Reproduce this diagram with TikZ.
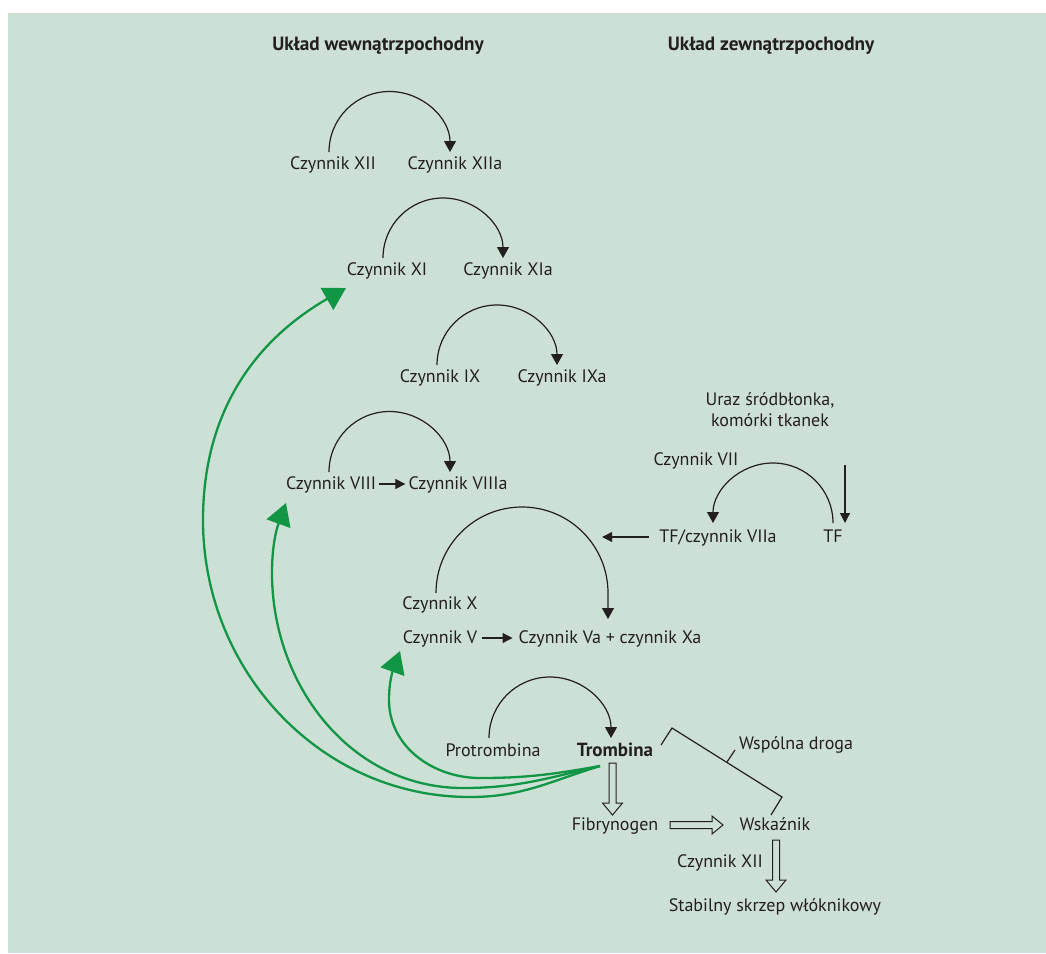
\documentclass[tikz,border=0pt]{standalone}
\usepackage{fontspec}
\setmainfont{PT Sans}
\usetikzlibrary{arrows.meta,calc}
\definecolor{bg}{RGB}{205,224,213}
\definecolor{gr}{RGB}{17,150,70}
\definecolor{tx}{RGB}{35,31,32}
\newcommand\hdown[3]{\draw[hol] (#1-3.5,#2) -- (#1+3.5,#2) -- (#1+3.5,#3+12) -- (#1+10,#3+12) -- (#1,#3) -- (#1-10,#3+12) -- (#1-3.5,#3+12) -- cycle;}
\newcommand\hright[3]{\draw[hol] (#1,#3+3.5) -- (#2-11,#3+3.5) -- (#2-11,#3+9) -- (#2,#3) -- (#2-11,#3-9) -- (#2-11,#3-3.5) -- (#1,#3-3.5) -- cycle;}
\begin{document}
\begin{tikzpicture}[x=1pt,y=1pt,
  font=\fontsize{18}{21}\selectfont,
  lbl/.style={inner sep=0pt,text height=1.1em,text depth=0.1em,text=tx},
  bfl/.style={lbl,font=\fontsize{19.2}{22}\selectfont\bfseries},
  carc/.style={draw=tx,line width=1.2pt,-{Triangle[length=11pt,width=12pt]}},
  sarr/.style={draw=tx,line width=1.2pt,-{Triangle[length=10pt,width=10pt]}},
  garr/.style={draw=gr,line width=2.3pt,-{Triangle[length=22pt,width=25pt]}},
  hol/.style={draw=tx,line width=1pt,fill=bg},
  thin/.style={draw=tx,line width=1.2pt}]
\useasboundingbox (0,0) rectangle (1046,-953);
\fill[white] (0,0) rectangle (1046,-953);
\fill[bg] (8,-13) rectangle (1046,-953);

% headings
\node[bfl] (h1) at (378,-45) {Układ wewnątrzpochodny};
\node[bfl] (h2) at (771,-45) {Układ zewnątrzpochodny};

% intrinsic
\node[lbl] (c12) at (333,-164) {Czynnik XII};
\node[lbl] (c12a) at (455,-164) {Czynnik XIIa};
\node[lbl] (c11) at (387,-270) {Czynnik XI};
\node[lbl] (c11a) at (508,-270) {Czynnik XIa};
\node[lbl] (c9) at (440,-377) {Czynnik IX};
\node[lbl] (c9a) at (562,-377) {Czynnik IXa};
\node[lbl] (c8) at (331,-484) {Czynnik VIII};
\node[lbl] (c8a) at (458,-484) {Czynnik VIIIa};
\node[lbl] (c10) at (440,-604) {Czynnik X};
\node[lbl] (c5) at (440,-638) {Czynnik V};
\node[lbl] (c5a) at (610,-638) {Czynnik Va + czynnik Xa};

% extrinsic
\node[lbl,align=center] (uraz) at (770,-421.5) {Uraz śródbłonka,\\komórki tkanek};
\node[lbl] (c7) at (696,-460) {Czynnik VII};
\node[lbl] (tfc) at (718,-537) {TF/czynnik VIIa};
\node[lbl] (tf) at (833,-537) {TF};
\coordinate (vtop) at (845,-465);

% common
\node[lbl] (prot) at (493,-751) {Protrombina};
\node[bfl,font=\fontsize{19}{22}\selectfont\bfseries] (trom) at (615,-751) {Trombina};
\node[lbl] (wsp) at (796,-744) {Wspólna droga};
\node[lbl] (fib) at (615,-825) {Fibrynogen};
\node[lbl] (wsk) at (775,-825) {Wskaźnik};
\node[lbl] (c12b) at (720,-862) {Czynnik XII};
\node[lbl] (stab) at (775,-906) {Stabilny skrzep włóknikowy};

% black arcs
\draw[carc] ([shift={(-4,12)}]c12.center) arc[start angle=180,end angle=0,radius=60.5];
\draw[carc] ([shift={(-4,12)}]c11.center) arc[start angle=180,end angle=0,radius=60];
\draw[carc] ([shift={(-3,12)}]c9.center) arc[start angle=180,end angle=0,radius=60];
\draw[carc] ([shift={(-2,12)}]c8.center) arc[start angle=180,end angle=0,radius=60.5];
\draw[carc] ([shift={(-4,11)}]c10.center) arc[start angle=180,end angle=0,radius=86] -- ++(0,-26);
\draw[carc] ([shift={(0,14)}]tf.center) arc[start angle=0,end angle=180,radius=60];
\draw[carc] ([shift={(-4,13)}]prot.center) arc[start angle=180,end angle=0,radius=61];

% straight arrows
\draw[sarr] ([xshift=3pt]c8.east) -- ([xshift=-3pt]c8a.west);
\draw[sarr] ([xshift=5pt]c5.east) -- ([xshift=-6pt]c5a.west);
\draw[sarr] ([xshift=-10pt]tfc.west) -- ++(-47,0);
\draw[sarr] (vtop) -- ([shift={(12,14)}]tf.center);

% bracket
\draw[thin] (661,-745) -- (672,-728) -- (782,-797) -- (771,-815);
\draw[thin] (727,-762) -- (735,-750);

% hollow arrows
\hdown{612.5}{-763}{-815}
\hright{670}{723}{-825}
\hdown{776}{-840}{-892}

% green feedback arrows
\coordinate (gs) at (600,-766);
\draw[garr] (gs) to[out=190,in=0] (480,-778) to[out=180,in=-90] (389,-700) to[out=90,in=-110] (400,-651);
\draw[garr] (gs) to[out=193,in=0] (463,-788) to[out=180,in=-90] (272,-573) to[out=90,in=-110] (286,-503);
\draw[garr] (gs) to[out=197,in=0] (470,-797) to[out=180,in=-90] (203,-520) to[out=90,in=-150] (346,-288);
\end{tikzpicture}
\end{document}
